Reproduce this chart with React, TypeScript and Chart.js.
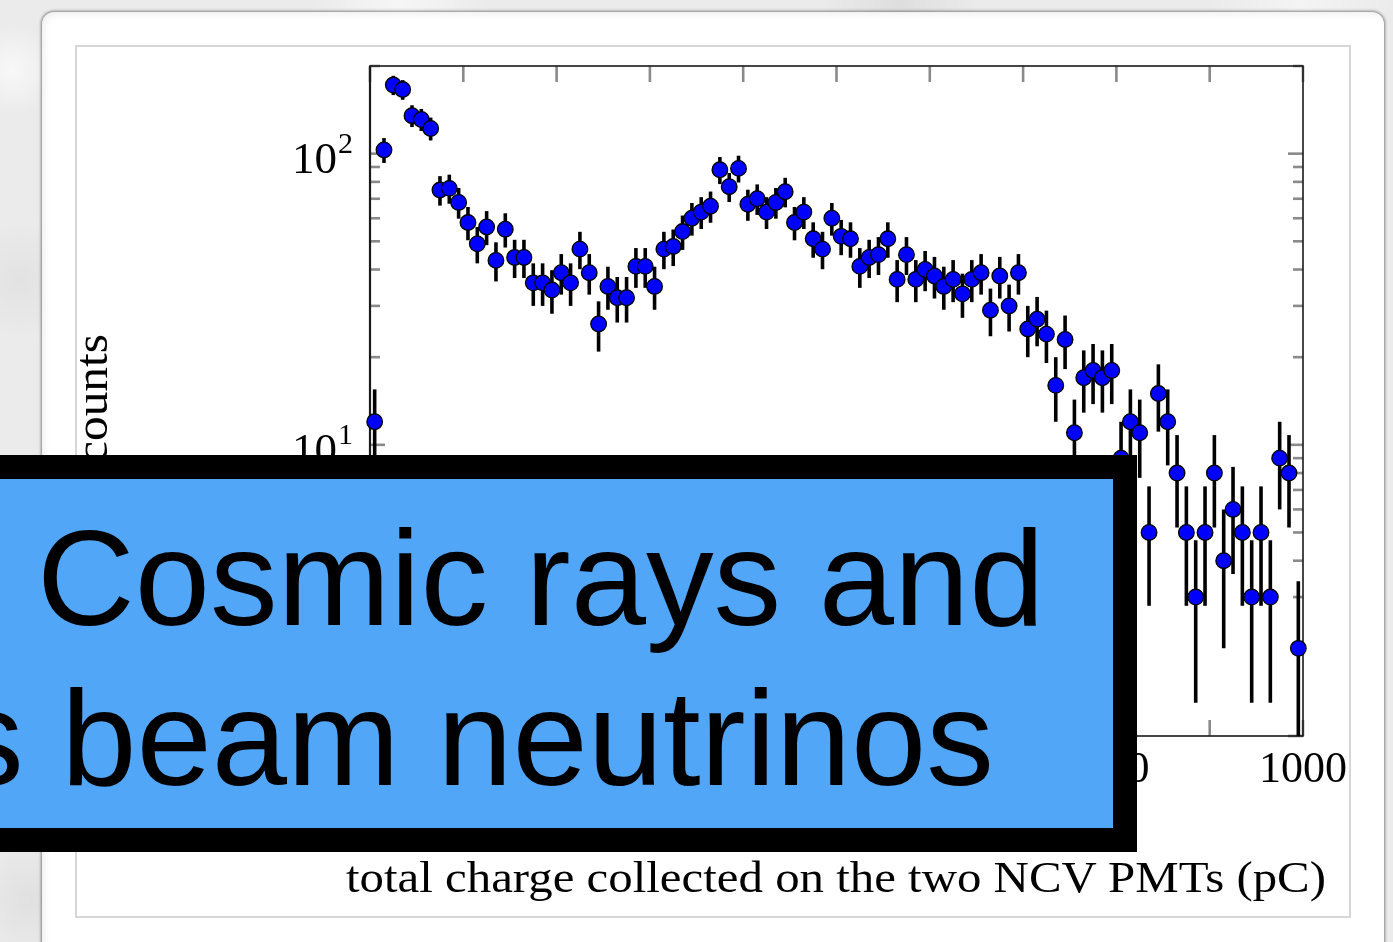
import React, { useEffect, useRef } from 'react';
import { Chart, registerables } from 'chart.js';

Chart.register(...registerables);

// ---------- data ----------
const BIN_START = 0; // pC
const BIN_WIDTH = 10; // pC
const COUNTS = [
  12, 103, 172, 166, 135, 131, 122, 75, 76, 68,
  58, 49, 56, 43, 55, 44, 44, 36, 36, 34,
  39, 36, 47, 39, 26, 35, 32, 32, 41, 41,
  35, 47, 48, 54, 60, 63, 66, 88, 77, 89,
  67, 70, 63, 68, 74, 58, 63, 51, 47, 60,
  52, 51, 41, 44, 45, 51, 37, 45, 37, 40,
  38, 35, 37, 33, 37, 39, 29, 38, 30, 39,
  25, 27, 24, 16, 23, 11, 17, 18, 17, 18,
  9, 12, 11, 5, 15, 12, 8, 5, 3, 5,
  8, 4, 6, 5, 3, 5, 3, 9, 8, 2,
];
const ERRORS = [
  3.5, 10.1, 13.1, 12.9, 11.6, 11.4, 11.0, 8.7, 8.7, 8.2,
  7.6, 7.0, 7.5, 6.6, 7.4, 6.6, 6.6, 6.0, 6.0, 5.8,
  6.2, 6.0, 6.9, 6.2, 5.1, 5.9, 5.7, 5.7, 6.4, 6.4,
  5.9, 6.9, 6.9, 7.3, 7.7, 7.9, 8.1, 9.4, 8.8, 9.4,
  8.2, 8.4, 7.9, 8.2, 8.6, 7.6, 7.9, 7.1, 6.9, 7.7,
  7.2, 7.1, 6.4, 6.6, 6.7, 7.1, 6.1, 6.7, 6.1, 6.3,
  6.2, 5.9, 6.1, 5.7, 6.1, 6.2, 5.4, 6.2, 5.5, 6.2,
  5.0, 5.2, 4.9, 4.0, 4.8, 3.3, 4.1, 4.2, 4.1, 4.2,
  3.0, 3.5, 3.3, 2.2, 3.9, 3.5, 2.8, 2.2, 1.7, 2.2,
  2.8, 2.0, 2.4, 2.2, 1.7, 2.2, 1.7, 3.0, 2.8, 1.4,
];
const X_MIN = 0;
const X_MAX = 1000;
const X_TICKS = [0, 100, 200, 300, 400, 500, 600, 700, 800, 900, 1000];
const X_TICK_LABELS = [0, 200, 400, 600, 800, 1000];
const Y_MIN = 1;
const Y_MAX = 200;
const Y_TICKS = [1, 2, 3, 4, 5, 6, 7, 8, 9, 10, 20, 30, 40, 50, 60, 70, 80, 90, 100, 200];
const Y_MAJOR = [1, 10, 100];
// decade labels: base "10" with exponent
const Y_LABEL_VALUES = [1, 10, 100];
const Y_LABEL_EXPONENTS = ['0', '1', '2'];

const X_TITLE = 'total charge collected on the two NCV PMTs (pC)';
const Y_TITLE = 'counts';
const BOX_LINE1 = 'Cosmic rays and';
const BOX_LINE2 = 's beam neutrinos';

// ---------- fonts / text helpers ----------
const SERIF = '"Liberation Serif", "Times New Roman", serif';
const SANS = '"Liberation Sans", Arial, Helvetica, sans-serif';

let mctx: CanvasRenderingContext2D | null = null;
function tm(text: string, family: string, size: number, weight = 400) {
  if (!mctx) mctx = document.createElement('canvas').getContext('2d');
  const ctx = mctx!;
  ctx.font = `${weight} ${size}px ${family}`;
  const m = ctx.measureText(text);
  return {
    l: m.actualBoundingBoxLeft,
    r: m.actualBoundingBoxRight,
    asc: m.fontBoundingBoxAscent,
    desc: m.fontBoundingBoxDescent,
  };
}
function fitScale(text: string, family: string, size: number, inkLeft: number, inkRight: number) {
  const m = tm(text, family, size);
  return (inkRight - inkLeft) / (m.l + m.r);
}

function HText(props: {
  text: string; family: string; size: number; baseline: number;
  inkLeft?: number; inkRight?: number; scale?: number; color?: string;
}) {
  const { text, family, size, baseline, inkLeft, inkRight, color = '#000' } = props;
  const m = tm(text, family, size);
  const s = props.scale ?? ((inkRight as number) - (inkLeft as number)) / (m.l + m.r);
  const originX = inkLeft !== undefined ? inkLeft + m.l * s : (inkRight as number) - m.r * s;
  return (
    <div
      style={{
        position: 'absolute',
        left: originX,
        top: baseline - m.asc,
        fontFamily: family,
        fontSize: size,
        fontWeight: 400,
        lineHeight: `${m.asc + m.desc}px`,
        whiteSpace: 'nowrap',
        transform: `scaleX(${s})`,
        transformOrigin: `0px ${m.asc}px`,
        color,
        margin: 0,
        padding: 0,
      }}
    >
      {text}
    </div>
  );
}

function VText(props: { text: string; family: string; size: number; baselineX: number; inkBottom: number; inkTop: number }) {
  const { text, family, size, baselineX, inkBottom, inkTop } = props;
  const m = tm(text, family, size);
  const s = (inkBottom - inkTop) / (m.l + m.r);
  const originY = inkBottom - m.l * s;
  return (
    <div
      style={{
        position: 'absolute',
        left: baselineX,
        top: originY - m.asc,
        fontFamily: family,
        fontSize: size,
        lineHeight: `${m.asc + m.desc}px`,
        whiteSpace: 'nowrap',
        transform: `rotate(-90deg) scaleX(${s})`,
        transformOrigin: `0px ${m.asc}px`,
        color: '#000',
      }}
    >
      {text}
    </div>
  );
}

// ---------- chart plugin: frame, inward ticks, error bars, decade labels ----------
const framePlugin = {
  id: 'frameTicksErrors',
  beforeDatasetsDraw(chart: any) {
    const { ctx, chartArea: a, scales } = chart;
    const x = scales.x;
    const y = scales.y;
    ctx.save();
    const seg = (x1: number, y1: number, x2: number, y2: number) => {
      ctx.beginPath();
      ctx.moveTo(x1, y1);
      ctx.lineTo(x2, y2);
      ctx.stroke();
    };
    ctx.strokeStyle = '#8a8a8a';
    ctx.lineWidth = 2.6;
    X_TICKS.forEach((v) => {
      const px = x.getPixelForValue(v);
      seg(px, a.top, px, a.top + 16);
      seg(px, a.bottom, px, a.bottom - 16);
    });
    Y_TICKS.forEach((v) => {
      const py = y.getPixelForValue(v);
      const len = Y_MAJOR.includes(v) ? 15 : 10;
      seg(a.left, py, a.left + len, py);
      seg(a.right, py, a.right - len, py);
    });
    ctx.strokeStyle = '#1a1a1a';
    ctx.lineWidth = 1.6;
    ctx.strokeRect(a.left, a.top, a.right - a.left, a.bottom - a.top);
    ctx.lineWidth = 2.2;
    seg(a.left, a.top, a.left, a.bottom);

    // decade labels 10^n on the y scale
    ctx.fillStyle = '#000';
    ctx.textBaseline = 'alphabetic';
    Y_LABEL_VALUES.forEach((v, i) => {
      const py = y.getPixelForValue(v);
      ctx.font = `30px ${SERIF}`;
      ctx.textAlign = 'right';
      const expRight = a.left - 17;
      ctx.fillText(Y_LABEL_EXPONENTS[i], expRight, py - 1);
      const ew = ctx.measureText(Y_LABEL_EXPONENTS[i]).width;
      ctx.font = `45px ${SERIF}`;
      ctx.fillText('10', expRight - ew - 1, py + 19.5);
    });

    // error bars (clipped to plot area)
    ctx.beginPath();
    ctx.rect(a.left, a.top, a.right - a.left, a.bottom - a.top);
    ctx.clip();
    ctx.strokeStyle = '#000';
    ctx.lineWidth = 3.6;
    ctx.lineCap = 'butt';
    COUNTS.forEach((c, i) => {
      const xc = BIN_START + BIN_WIDTH * (i + 0.5);
      const px = x.getPixelForValue(xc);
      const hi = c + ERRORS[i];
      const lo = c - ERRORS[i];
      const pyHi = y.getPixelForValue(hi);
      const pyLo = lo > 0 ? y.getPixelForValue(lo) : a.bottom + 20;
      seg(px, pyHi, px, pyLo);
    });
    ctx.restore();
  },
};

function ChartCanvas() {
  const ref = useRef<HTMLCanvasElement | null>(null);
  useEffect(() => {
    if (!ref.current) return;
    const chart = new Chart(ref.current, {
      type: 'scatter',
      data: {
        datasets: [
          {
            data: COUNTS.map((c, i) => ({ x: BIN_START + BIN_WIDTH * (i + 0.5), y: c })),
            pointRadius: 7.8,
            pointHoverRadius: 7.8,
            pointBackgroundColor: '#0000ff',
            pointBorderColor: '#000000',
            pointBorderWidth: 1.3,
            showLine: false,
            clip: false,
          } as any,
        ],
      },
      options: {
        responsive: false,
        maintainAspectRatio: false,
        devicePixelRatio: 1,
        animation: false,
        events: [],
        layout: { padding: { left: 0, top: 66, right: 90, bottom: 106 } },
        plugins: { legend: { display: false }, tooltip: { enabled: false } },
        scales: {
          x: {
            type: 'linear',
            min: X_MIN,
            max: X_MAX,
            grid: { display: false, drawTicks: false },
            border: { display: false },
            afterBuildTicks: (scale: any) => {
              scale.ticks = X_TICKS.map((v) => ({ value: v }));
            },
            afterFit: (scale: any) => {
              scale.height = 100;
            },
            ticks: {
              autoSkip: false,
              maxRotation: 0,
              minRotation: 0,
              padding: 8,
              color: '#000',
              font: { family: SERIF, size: 44 },
              callback: (v: any) => (X_TICK_LABELS.includes(Number(v)) ? String(v) : ''),
            },
          },
          y: {
            type: 'logarithmic',
            min: Y_MIN,
            max: Y_MAX,
            grid: { display: false, drawTicks: false },
            border: { display: false },
            afterBuildTicks: (scale: any) => {
              scale.ticks = Y_TICKS.map((v) => ({ value: v, major: Y_MAJOR.includes(v) }));
            },
            afterFit: (scale: any) => {
              scale.width = 370;
            },
            ticks: {
              autoSkip: false,
              display: true,
              color: '#000',
              font: { family: SERIF, size: 44 },
              callback: () => '',
            },
          },
        },
      } as any,
      plugins: [framePlugin],
    });
    return () => chart.destroy();
  }, []);
  return (
    <canvas
      ref={ref}
      width={1393}
      height={942}
      style={{ position: 'absolute', left: 0, top: 0, width: 1393, height: 942 }}
    />
  );
}

export default function App() {
  const boxScale = fitScale(BOX_LINE1, SANS, 136, 43, 1036);
  return (
    <div
      style={{
        position: 'fixed',
        left: 0,
        top: 0,
        width: 1393,
        height: 942,
        overflow: 'hidden',
        background:
          'radial-gradient(circle at 12px 70px, #f8f8f8 0px, rgba(248,248,248,0) 45px),' +
          'radial-gradient(circle at 20px 280px, #e2e2e2 0px, rgba(226,226,226,0) 60px),' +
          'radial-gradient(circle at 10px 520px, #f5f5f5 0px, rgba(245,245,245,0) 70px),' +
          'radial-gradient(circle at 30px 900px, #e0e0e0 0px, rgba(224,224,224,0) 60px),' +
          'radial-gradient(circle at 400px 0px, #f6f6f6 0px, rgba(246,246,246,0) 90px),' +
          'radial-gradient(circle at 900px 4px, #dedede 0px, rgba(222,222,222,0) 80px),' +
          'radial-gradient(circle at 1300px 0px, #f4f4f4 0px, rgba(244,244,244,0) 90px),' +
          '#ebebeb',
      }}
    >
      {/* slide panel */}
      <div
        style={{
          position: 'absolute',
          left: 42,
          top: 12,
          width: 1342,
          height: 1000,
          background: '#ffffff',
          borderRadius: 12,
          boxShadow: '0 0 3px 1px rgba(0,0,0,0.45), inset 3px 3px 6px rgba(0,0,0,0.06)',
        }}
      />
      {/* figure frame */}
      <div
        style={{
          position: 'absolute',
          left: 75,
          top: 45,
          width: 1276,
          height: 873,
          border: '2px solid #d6d6d6',
          boxSizing: 'border-box',
          background: '#ffffff',
        }}
      />
      <ChartCanvas />
      <VText text={Y_TITLE} family={SERIF} size={46} baselineX={107} inkBottom={462} inkTop={335} />
      <HText text={X_TITLE} family={SERIF} size={44} baseline={892} inkLeft={346} inkRight={1325} />
      {/* overlay box */}
      <div
        style={{
          position: 'absolute',
          left: -60,
          top: 455,
          width: 1197,
          height: 397,
          boxSizing: 'border-box',
          border: '24px solid #000',
          background: '#52a6f8',
        }}
      />
      <HText text={BOX_LINE1} family={SANS} size={136} baseline={625} inkLeft={43} inkRight={1036} />
      <HText text={BOX_LINE2} family={SANS} size={136} baseline={785} inkRight={990} scale={boxScale} />
    </div>
  );
}
